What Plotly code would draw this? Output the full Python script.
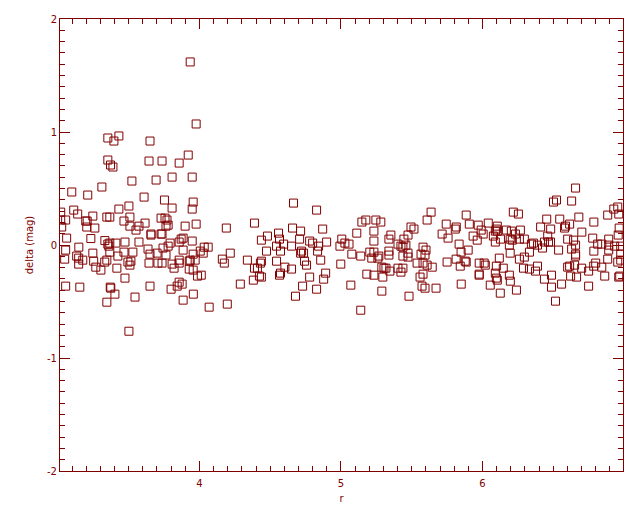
import plotly.graph_objects as go

r_vals = [
3.935,3.977,3.353,3.431,3.396,3.651,3.921,3.353,3.372,3.389,3.644,3.736,3.857,3.523,3.694,3.807,3.949,
3.098,3.211,3.311,3.609,3.753,3.956,3.020,3.112,3.140,3.431,3.502,3.807,3.949,3.020,3.055,3.197,3.207,
3.247,3.346,3.367,3.467,3.509,3.616,3.729,3.757,3.771,3.027,3.204,3.261,3.509,3.573,3.552,3.764,3.779,
3.899,3.977,4.190,4.389,3.658,3.658,3.729,3.736,3.062,3.233,3.332,
3.353,3.367,3.360,3.410,3.474,3.573,3.793,3.779,3.857,3.871,3.885,3.949,3.148,3.055,3.367,3.247,3.467,
3.530,3.637,3.701,3.743,3.651,3.764,3.885,3.956,4.034,4.062,4.006,4.027,4.218,3.133,3.147,3.176,3.048,
3.147,3.253,3.331,3.346,3.424,3.495,3.516,3.509,3.644,3.707,3.736,3.807,3.821,3.857,3.857,3.928,3.935,
3.928,3.956,3.970,4.162,4.176,4.339,3.268,3.304,3.417,3.987,4.013,3.474,4.389,4.381,4.289,3.055,3.155,
3.370,3.374,3.651,3.857,3.878,3.843,3.800,3.403,3.545,3.957,3.346,3.885,4.069,4.197,3.502,
4.665,4.828,4.658,4.715,4.871,4.559,4.481,4.438,4.566,4.545,4.595,4.708,4.779,4.800,4.842,4.899,4.651,
4.474,4.573,4.722,4.715,4.736,4.835,4.438,4.431,4.545,4.410,4.604,4.651,4.743,4.757,4.857,4.573,4.566,
4.424,4.438,4.779,4.892,4.878,4.729,4.828,4.679,5.006,4.993,5.028,5.057,5.112,5.148,5.176,5.247,5.282,
5.233,5.233,5.353,5.339,5.077,5.140,4.999,5.204,5.233,5.218,5.268,5.261,5.339,5.339,5.403,5.424,5.445,
5.438,5.459,5.474,5.495,5.516,5.474,5.474,5.438,5.538,5.580,5.594,5.601,5.580,5.566,5.609,5.637,5.609,
5.645,5.289,5.304,5.318,5.346,5.403,5.438,5.424,5.183,5.233,5.296,5.070,5.289,5.481,5.559,5.580,5.573,
5.594,5.672,5.140,
6.658,6.502,6.523,6.630,5.885,6.218,6.254,6.956,6.928,6.885,6.963,5.744,5.815,5.808,5.907,5.970,6.041,
6.105,6.098,6.091,6.105,5.991,5.934,6.005,5.963,5.715,5.757,5.835,5.849,5.899,6.077,6.127,6.091,6.169,
6.204,6.233,6.268,6.196,6.211,6.190,6.261,6.296,6.196,6.411,6.454,6.546,6.482,6.461,6.580,6.587,6.616,
6.702,6.787,6.681,6.959,6.966,6.346,6.360,6.389,6.438,6.467,6.481,6.424,6.538,6.602,6.644,6.658,6.630,
6.779,6.787,6.814,6.843,6.892,6.892,6.892,6.934,6.977,6.332,6.296,6.261,6.119,6.658,6.658,6.885,6.977,
6.977,6.956,5.750,5.814,5.843,5.878,5.885,5.977,6.012,6.020,6.098,6.147,6.091,6.098,6.105,5.977,5.977,
6.190,6.197,6.055,6.126,6.240,6.290,6.332,6.375,6.389,6.438,6.488,6.488,6.559,6.516,6.602,6.616,6.651,
6.623,6.665,6.701,6.750,6.786,6.800,6.843,6.750,6.864,6.963,6.970,5.850,
]

delta_vals = [
1.620,1.071,0.947,0.965,0.920,0.920,0.796,0.752,0.708,0.690,0.743,0.743,0.725,0.566,0.575,0.601,0.601,
0.469,0.442,0.513,0.424,0.398,0.380,0.291,0.309,0.274,0.318,0.345,0.327,0.318,0.221,0.221,0.212,0.212,
0.256,0.247,0.247,0.212,0.247,0.194,0.238,0.238,0.221,0.159,0.159,0.150,0.167,0.167,0.132,0.167,0.176,
0.167,0.185,0.150,0.194,0.097,0.088,0.097,0.097,0.061,0.057,0.039,
0.008,0.017,-0.010,0.017,0.026,0.026,0.017,-0.010,0.026,0.052,0.061,0.035,-0.019,-0.045,-0.063,-0.072,-0.063,
-0.063,-0.036,-0.072,-0.027,-0.081,-0.089,-0.045,-0.081,-0.019,-0.019,-0.054,-0.072,-0.072,-0.098,-0.116,-0.134,-0.125,
-0.169,-0.143,-0.151,-0.134,-0.098,-0.151,-0.143,-0.178,-0.160,-0.160,-0.160,-0.169,-0.205,-0.134,-0.160,-0.143,-0.134,
-0.213,-0.222,-0.134,-0.125,-0.160,-0.134,-0.196,-0.222,-0.205,-0.275,-0.267,-0.293,-0.205,-0.311,-0.346,-0.364,-0.373,
-0.373,-0.382,-0.364,-0.329,-0.346,-0.364,-0.391,-0.435,-0.461,-0.435,-0.506,-0.488,-0.550,-0.523,-0.763,
0.371,0.309,0.150,0.123,0.141,0.105,0.079,0.043,0.052,-0.010,0.008,0.052,0.035,0.017,-0.010,0.026,-0.010,
-0.054,-0.054,-0.054,-0.072,-0.072,-0.054,-0.143,-0.160,-0.143,-0.205,-0.196,-0.213,-0.143,-0.178,-0.134,-0.249,-0.267,
-0.275,-0.284,-0.284,-0.249,-0.302,-0.364,-0.391,-0.453,0.052,-0.010,0.017,0.008,0.105,0.203,0.221,0.221,0.203,
0.123,0.035,0.088,0.052,-0.081,-0.098,-0.169,-0.063,-0.063,-0.116,-0.098,-0.116,-0.054,-0.089,0.008,-0.010,0.052,
-0.019,-0.001,0.088,0.159,0.141,-0.072,-0.107,-0.098,-0.160,-0.160,-0.089,-0.045,-0.019,-0.081,0.221,0.291,-0.178,
-0.196,-0.196,-0.205,-0.205,-0.231,-0.205,-0.205,-0.240,-0.258,-0.267,-0.284,-0.355,-0.408,-0.453,-0.284,-0.258,-0.364,
-0.382,-0.382,-0.577,
0.504,0.380,0.398,0.389,0.265,0.291,0.274,0.336,0.318,0.265,0.274,0.185,0.159,0.141,0.185,0.176,0.194,
0.167,0.141,0.123,0.123,0.132,0.079,0.097,0.043,0.097,0.061,0.008,-0.063,-0.045,0.079,0.052,0.026,0.132,
0.123,0.097,0.132,0.052,0.043,-0.001,0.052,0.052,-0.072,0.159,0.229,0.229,0.141,0.079,0.150,0.167,0.185,
0.114,0.203,0.247,0.088,0.150,0.008,0.017,-0.001,0.026,0.026,0.026,-0.027,-0.045,0.052,0.043,-0.001,-0.036,
0.061,-0.054,0.008,0.008,0.052,-0.001,-0.045,-0.010,-0.010,-0.063,-0.107,-0.125,-0.116,-0.081,-0.098,-0.125,-0.081,
-0.134,-0.151,-0.151,-0.125,-0.187,-0.143,-0.151,-0.160,-0.160,-0.178,-0.187,-0.205,-0.249,-0.293,-0.311,-0.258,-0.267,
-0.267,-0.320,-0.355,-0.426,-0.399,-0.205,-0.213,-0.231,-0.187,-0.302,-0.267,-0.373,-0.346,-0.497,-0.196,-0.187,-0.178,
-0.275,-0.284,-0.205,-0.231,-0.187,-0.160,-0.196,-0.364,-0.275,-0.284,-0.275,-0.346,
]

x_ticks = [4, 5, 6]
y_ticks = [-2, -1, 0, 1, 2]
y_ticktext = ["-2", "-1", "0", "1", "2"]

col = "#800000"
fnt = dict(family="DejaVu Sans", size=10, color=col)

fig = go.Figure()
fig.add_trace(go.Scatter(
    x=r_vals, y=delta_vals, mode="markers",
    marker=dict(symbol="square-open", size=8, color=col, line=dict(width=1, color=col)),
    cliponaxis=True, showlegend=False,
))

fig.update_layout(
    width=640, height=512,
    margin=dict(l=52, r=25, t=11, b=49, autoexpand=False),
    paper_bgcolor="white", plot_bgcolor="white",
    font=fnt,
)
fig.update_xaxes(
    range=[3.015, 6.993], tickmode="array", tickvals=x_ticks, ticktext=[str(v) for v in x_ticks],
    ticks="inside", ticklen=10, tickwidth=1, tickcolor=col, ticklabelstandoff=3,
    minor=dict(tickmode="linear", tick0=0, dtick=0.1, ticks="inside", ticklen=5, tickwidth=1, tickcolor=col, showgrid=False),
    showline=True, linecolor=col, linewidth=1, mirror="allticks",
    showgrid=False, zeroline=False, tickfont=fnt, automargin=False,
    title=dict(text="r", font=fnt, standoff=6),
)
fig.update_yaxes(
    range=[-2, 2], tickmode="array", tickvals=y_ticks, ticktext=y_ticktext,
    ticks="inside", ticklen=10, tickwidth=1, tickcolor=col,
    minor=dict(tickmode="linear", tick0=0, dtick=0.1, ticks="inside", ticklen=5, tickwidth=1, tickcolor=col, showgrid=False),
    showline=True, linecolor=col, linewidth=1, mirror="allticks",
    showgrid=False, zeroline=False, tickfont=fnt, automargin=False,
    title=dict(text="delta (mag)", font=fnt, standoff=11),
)

fig.write_html("out.html")
